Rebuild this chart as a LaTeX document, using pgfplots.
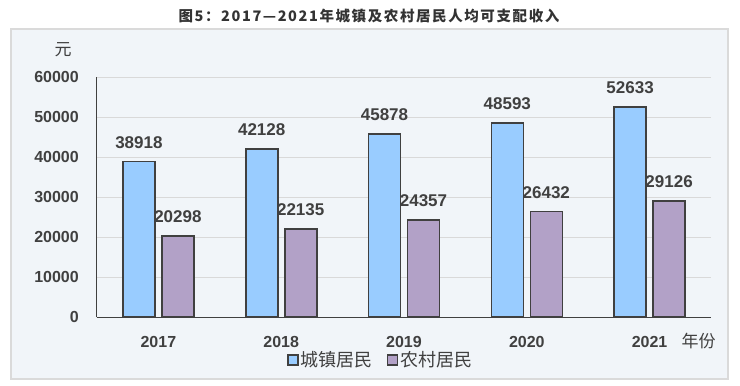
\documentclass[border=0pt]{standalone}
\usepackage{fontspec}
\setmainfont{Liberation Sans}
\newfontfamily\cjk{Noto Sans CJK SC}
\newfontfamily\cjktitle[LetterSpace=11]{Noto Sans CJK SC}
\usepackage{pgfplots}
\pgfplotsset{compat=1.18}
\definecolor{boxgray}{HTML}{DADADA}
\definecolor{boxfill}{HTML}{F1F5F9}
\definecolor{bluebar}{HTML}{99CCFF}
\definecolor{purplebar}{HTML}{B2A1C7}
\definecolor{edge}{HTML}{404040}
\definecolor{txt}{HTML}{404040}
\definecolor{gridc}{HTML}{D9D9D9}
\begin{document}
\begin{tikzpicture}[x=1pt,y=1pt]
\path[use as bounding box] (0,0) rectangle (740,386);
\draw[line width=2pt, draw=boxgray, fill=boxfill] (11,7) rectangle (728,357);
\node[font=\cjktitle\bfseries\fontsize{14.5}{15}\selectfont, text=black!80] at (369,370) {图5：2017—2021年城镇及农村居民人均可支配收入};
\node[font=\cjk\fontsize{17}{17}\selectfont, text=txt] at (63,336) {元};
\node[font=\cjk\fontsize{17}{17}\selectfont, text=txt] at (698.5,45) {年份};
\begin{axis}[
  at={(97pt,68.7pt)}, anchor=south west,
  scale only axis, width=614pt, height=240pt,
  xmin=-0.5, xmax=4.5, ymin=0, ymax=60000,
  ybar, bar width=32pt,
  axis x line*=bottom, axis y line*=left,
  axis line style={draw=edge, line width=1pt, -},
  major tick length=0pt,
  xtick={0,1,2,3,4},
  xticklabels={2017,2018,2019,2020,2021},
  ytick={0,10000,20000,30000,40000,50000,60000},
  ymajorgrids, major grid style={draw=gridc, line width=1pt},
  /pgf/number format/1000 sep={},
  /pgf/number format/assume math mode=true,
  scaled y ticks=false,
  yticklabel style={anchor=east, inner sep=0pt, xshift=-18pt, font=\bfseries\fontsize{16}{16}\selectfont, text=txt},
  xticklabel style={anchor=north, inner sep=0pt, yshift=-19pt, font=\bfseries\fontsize{16}{16}\selectfont, text=txt},
  nodes near coords,
  every node near coord/.append style={font=\bfseries\fontsize{17}{17}\selectfont, text=txt, inner sep=0pt, anchor=south, yshift=12.5pt},
  legend style={at={(0.4625,-0.178)}, anchor=center, draw=none, fill=none, legend columns=2,
    font=\cjk\fontsize{18}{18}\selectfont, text=txt, inner sep=0pt,
    /tikz/every even column/.append style={column sep=12pt}},
  legend image code/.code={\draw[#1, line width=1.5pt] (0pt,-5pt) rectangle (10pt,5pt);},
]
\addplot[fill=bluebar, draw=edge, line width=1.6pt, bar shift=-19.5pt]
  coordinates {(0,38918) (1,42128) (2,45878) (3,48593) (4,52633)};
\addplot[fill=purplebar, draw=edge, line width=1.6pt, bar shift=19.5pt]
  coordinates {(0,20298) (1,22135) (2,24357) (3,26432) (4,29126)};
\legend{城镇居民,农村居民}
\end{axis}
\end{tikzpicture}
\end{document}
